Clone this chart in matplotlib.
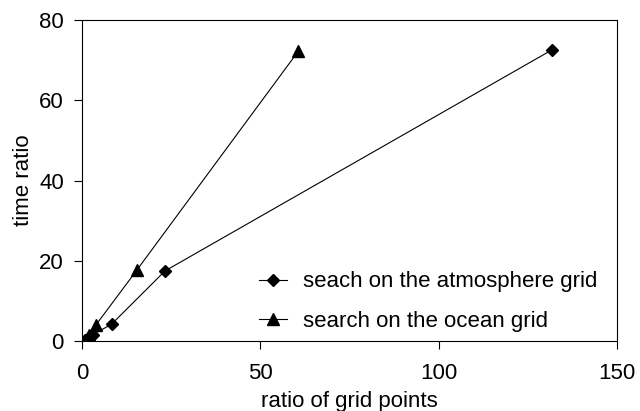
import matplotlib
matplotlib.use("Agg")
import matplotlib.pyplot as plt

plt.rcParams['font.family'] = ['Liberation Sans', 'DejaVu Sans']

# Data
atm_x = [1.0, 1.6, 3.0, 8.3, 23.3, 131.8]
atm_y = [0.3, 0.8, 1.6, 4.2, 17.5, 72.6]
ocean_x = [1.0, 2.0, 3.9, 15.4, 60.7]
ocean_y = [0.3, 1.5, 4.0, 17.7, 72.3]

x_ticks = [0, 50, 100, 150]
y_ticks = [0, 20, 40, 60, 80]

fig = plt.figure(figsize=(6.4, 4.11), dpi=100)
ax = fig.add_axes([0.128, 0.170, 0.836, 0.781])

ax.plot(atm_x, atm_y, color="black", linewidth=0.8, marker="D", markersize=6.5,
        label="seach on the atmosphere grid")
ax.plot(ocean_x, ocean_y, color="black", linewidth=0.8, marker="^", markersize=9,
        label="search on the ocean grid")

ax.set_xlim(0, 150)
ax.set_ylim(0, 80)
ax.set_xticks(x_ticks)
ax.set_yticks(y_ticks)
ax.tick_params(direction="out", length=6, width=0.8, labelsize=16)
ax.tick_params(axis="x", pad=10)
ax.tick_params(axis="y", pad=7)
for s in ax.spines.values():
    s.set_linewidth(0.8)

ax.set_xlabel("ratio of grid points", fontsize=16, labelpad=5)
ax.set_ylabel("time ratio", fontsize=16, labelpad=4)

ax.legend(loc="lower right", frameon=False, fontsize=16, handlelength=1.3,
          handletextpad=0.7, bbox_to_anchor=(0.98, 0.0), borderaxespad=0.0,
          borderpad=0.4, labelspacing=0.85)

fig.savefig("out.png", dpi=100)
